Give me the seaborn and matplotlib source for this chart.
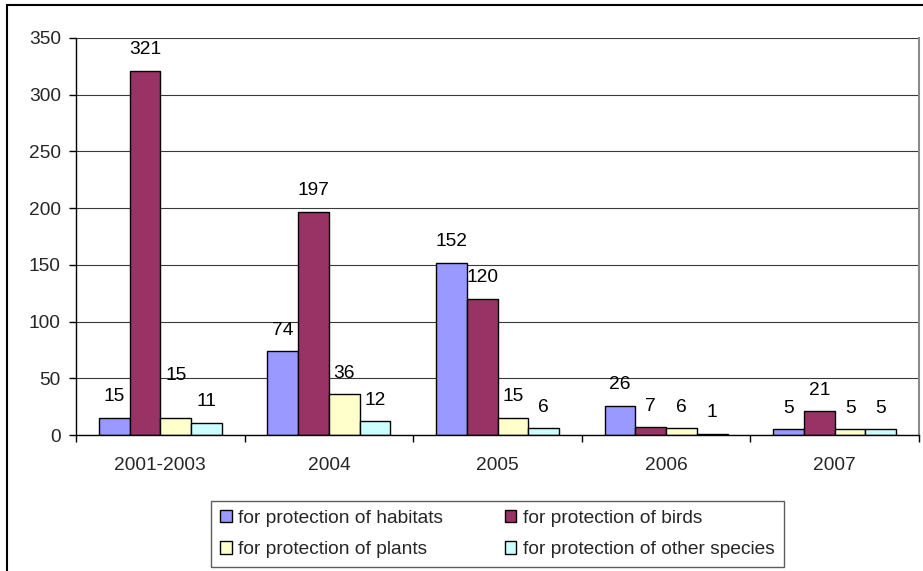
import matplotlib
matplotlib.use("Agg")
import matplotlib.pyplot as plt
from matplotlib.patches import Rectangle, Patch
from matplotlib.ticker import FixedLocator, MultipleLocator
import seaborn as sns
import pandas as pd

# Values per period and purpose
periods = ["2001-2003", "2004", "2005", "2006", "2007"]
purposes = [
    "for protection of habitats",
    "for protection of birds",
    "for protection of plants",
    "for protection of other species",
]
habitats = [15, 74, 152, 26, 5]
birds = [321, 197, 120, 7, 21]
plants = [15, 36, 15, 6, 5]
other_species = [11, 12, 6, 1, 5]

colors = ["#9999FF", "#993366", "#FFFFCC", "#CCFFFF"]

# Extra lift (pixels) for a data label that sits higher than the rest
label_lift = {("2001-2003", "for protection of plants"): 21}

df = pd.DataFrame({
    "period": periods * 4,
    "purpose": sum([[p] * len(periods) for p in purposes], []),
    "count": habitats + birds + plants + other_species,
})

FS = 13.8

sns.set_theme(style="white")
plt.rcParams["font.family"] = ["Liberation Sans", "DejaVu Sans"]
plt.rcParams["font.size"] = FS

W, H = 923, 571
fig = plt.figure(figsize=(W / 100, H / 100), dpi=100)
fig.patch.set_facecolor("white")
ax = fig.add_axes([76 / W, 1 - 435 / H, (919 - 76) / W, (435 - 38) / H])

sns.barplot(
    data=df, x="period", y="count", hue="purpose",
    order=periods, hue_order=purposes, palette=colors,
    width=0.73, saturation=1, edgecolor="black", linewidth=1.0,
    legend=False, ax=ax,
)

ax.set_xlim(-0.5, len(periods) - 0.5)
ax.set_ylim(0, 350)
ax.yaxis.set_major_locator(MultipleLocator(50))
ax.set_xlabel("")
ax.set_ylabel("")

# Horizontal gridlines
ax.yaxis.grid(True, color="#3a3a3a", linewidth=0.8)
ax.set_axisbelow(True)

# Spines
for side in ["left", "bottom"]:
    ax.spines[side].set_color("black")
    ax.spines[side].set_linewidth(1.0)
ax.spines["top"].set_visible(False)
ax.spines["right"].set_color("#8c8c8c")
ax.spines["right"].set_linewidth(1.5)

# Tick marks: y ticks outward, x ticks between categories
ax.tick_params(axis="y", which="major", direction="out", length=5, width=1,
               color="black", pad=6, labelsize=FS, left=True)
ax.tick_params(axis="x", which="major", length=0, pad=16, labelsize=FS)
ax.xaxis.set_minor_locator(FixedLocator([i - 0.5 for i in range(len(periods) + 1)]))
ax.tick_params(axis="x", which="minor", direction="out", length=5, width=1,
               color="black", bottom=True)

# Data labels above each bar
for container, purpose in zip(ax.containers, purposes):
    for bar, period in zip(container, periods):
        h = bar.get_height()
        lift_px = 21 + label_lift.get((period, purpose), 0)
        ax.annotate(
            f"{h:.0f}",
            xy=(bar.get_x() + bar.get_width() / 2, h),
            xytext=(0, lift_px * 0.72), textcoords="offset points",
            ha="center", va="center", fontsize=FS, color="black",
        )

# Legend in two rows, ordered row by row
handles = [Patch(facecolor=c, edgecolor="black", linewidth=1.0) for c in colors]
order = [0, 2, 1, 3]
leg = fig.legend(
    [handles[i] for i in order], [purposes[i] for i in order],
    ncol=2, loc="center", bbox_to_anchor=(497.5 / W, 1 - 534 / H),
    frameon=True, fancybox=False, shadow=False, fontsize=FS,
    handlelength=0.6, handleheight=0.6, handletextpad=0.36,
    columnspacing=3.2, labelspacing=0.75, borderpad=0.48,
)
leg.get_frame().set_edgecolor("#333333")
leg.get_frame().set_linewidth(1.0)

# Chart border
fig.patches.append(Rectangle(
    (7 / W, -0.1), 1.2, 1 - 5 / H + 0.1, transform=fig.transFigure,
    fill=False, edgecolor="black", linewidth=1.5, clip_on=False,
))

fig.savefig("out.png", dpi=100)
